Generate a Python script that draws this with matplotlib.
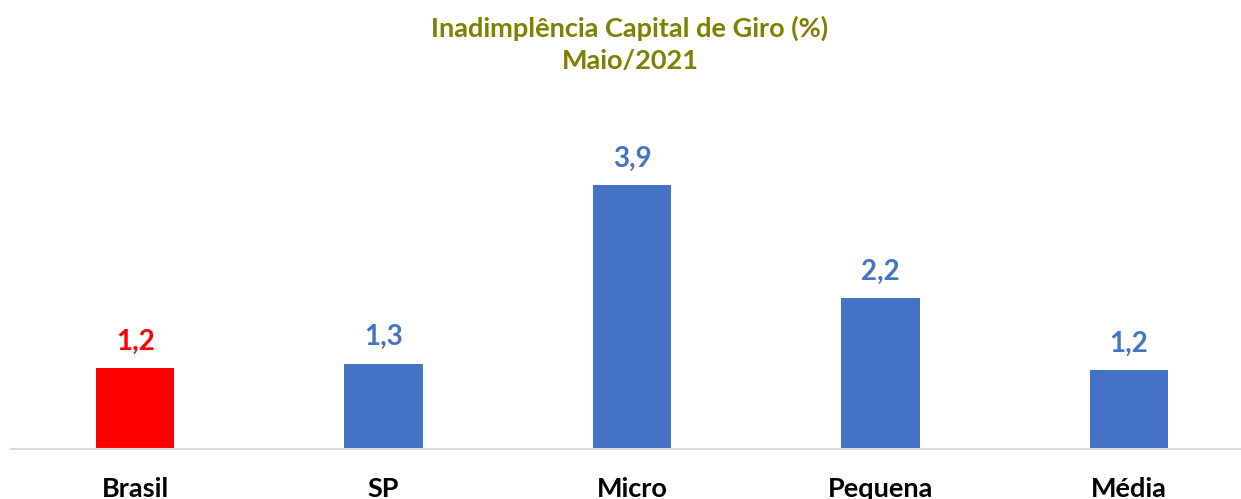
import matplotlib.pyplot as plt

categories = ['Brasil', 'SP', 'Micro', 'Pequena', 'Média']
values = [1.2, 1.26, 3.9, 2.23, 1.16]
bar_colors = ['#FF0000', '#4472C4', '#4472C4', '#4472C4', '#4472C4']

plt.rcParams['font.family'] = ['Lato', 'DejaVu Sans']

fig = plt.figure(figsize=(12.41, 4.99), dpi=100)
ax = fig.add_axes([11 / 1241, 50 / 499, 1242 / 1241, 349 / 499])

x = range(len(categories))
ax.bar(x, values, width=0.315, color=bar_colors)
for i, v in enumerate(values):
    ax.text(i, v + 0.27, f'{v:.1f}'.replace('.', ','), ha='center', va='baseline',
            fontsize=20, fontweight='bold', color=bar_colors[i])

# category labels sit right at the bottom edge, like the original
for i, cat in enumerate(categories):
    ax.text(i, -48 / 349, cat, transform=ax.get_xaxis_transform(), ha='center',
            va='baseline', fontsize=19.5, fontweight='bold', color='black')

ax.set_xlim(-0.5, len(categories) - 0.5)
ax.set_ylim(0, 5.15)
ax.set_yticks([])
ax.set_xticks([])
for side in ['top', 'right', 'left']:
    ax.spines[side].set_visible(False)
ax.spines['bottom'].set_color('#D9D9D9')
ax.spines['bottom'].set_linewidth(1.5)

fig.text(630 / 1241, 1 - 44 / 499, 'Inadimplência Capital de Giro (%)\nMaio/2021',
         ha='center', va='center', fontsize=19.5, fontweight='bold', color='#7F7F00',
         linespacing=1.4)

fig.savefig('out.png', dpi=100)
